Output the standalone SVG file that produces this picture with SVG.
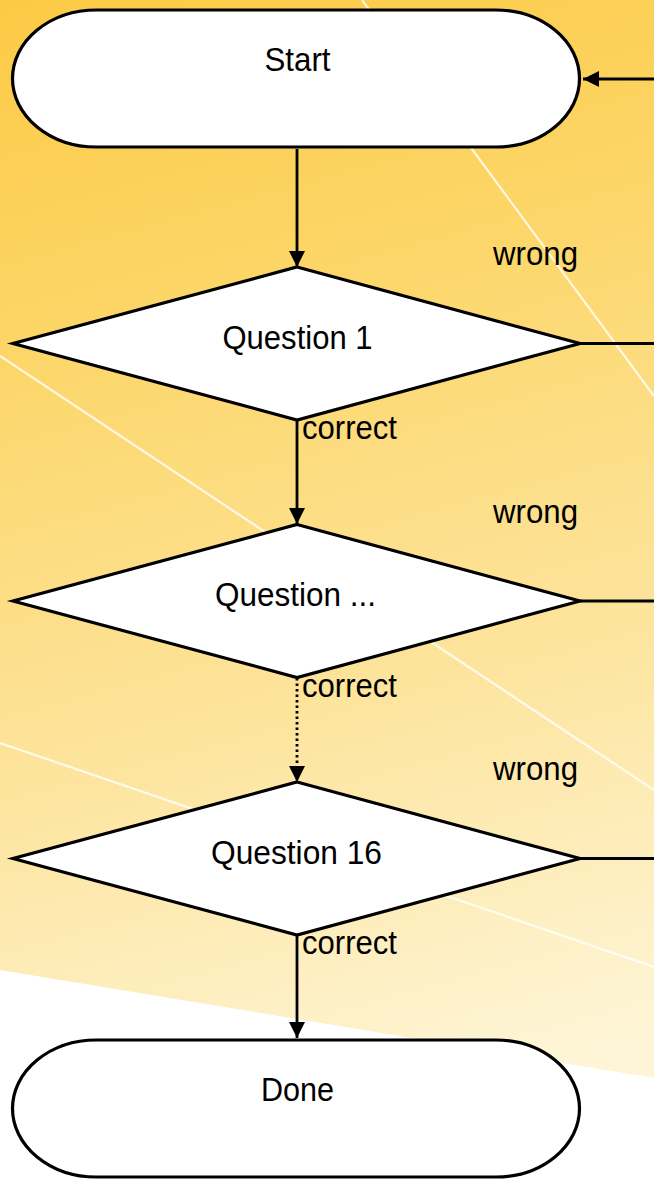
<svg xmlns="http://www.w3.org/2000/svg" width="654" height="1179" viewBox="0 0 654 1179">
<defs>
<linearGradient id="bg" x1="0" y1="0" x2="0.15" y2="1">
<stop offset="0" stop-color="#FCCA45"/>
<stop offset="0.3" stop-color="#FCD669"/>
<stop offset="0.65" stop-color="#FDE49C"/>
<stop offset="1" stop-color="#FEF5D6"/>
</linearGradient>
<marker id="arr" viewBox="0 0 16 16" refX="16" refY="8" markerWidth="16" markerHeight="16" markerUnits="userSpaceOnUse" orient="auto">
<path d="M0,0 L16,8 L0,16 Z" fill="#000"/>
</marker>
<style>
.node{fill:#fff;stroke:#000;stroke-width:3.2;}
.t{font-family:"Liberation Sans",Arial,sans-serif;font-size:33px;fill:#000;}
.c{stroke:#000;stroke-width:2.8;fill:none;}
.ray{stroke:#fff;stroke-width:2.2;stroke-opacity:0.8;}
</style>
</defs>
<g id="background">
<rect x="0" y="0" width="654" height="1179" fill="url(#bg)"/>
<polygon points="0,970 654,1078 654,1179 0,1179" fill="#fff"/>
<line class="ray" x1="362" y1="0" x2="654" y2="396"/>
<line class="ray" x1="0" y1="356" x2="654" y2="790"/>
<line class="ray" x1="0" y1="743" x2="654" y2="967"/>
</g>
<g id="connectors">
<line class="c" x1="297" y1="149" x2="297" y2="267" marker-end="url(#arr)"/>
<line class="c" x1="297" y1="420" x2="297" y2="524" marker-end="url(#arr)"/>
<line class="c" x1="297" y1="678" x2="297" y2="782" stroke-dasharray="2.5 3" marker-end="url(#arr)"/>
<line class="c" x1="297" y1="935" x2="297" y2="1038" marker-end="url(#arr)"/>
<line class="c" x1="580" y1="343.5" x2="660" y2="343.5"/>
<line class="c" x1="580" y1="601" x2="660" y2="601"/>
<line class="c" x1="580" y1="858.5" x2="660" y2="858.5"/>
<line class="c" x1="660" y1="79" x2="583" y2="79" marker-end="url(#arr)"/>
<text class="t" x="302" y="439" textLength="95" lengthAdjust="spacingAndGlyphs">correct</text>
<text class="t" x="302" y="696.5" textLength="95" lengthAdjust="spacingAndGlyphs">correct</text>
<text class="t" x="302" y="954" textLength="95" lengthAdjust="spacingAndGlyphs">correct</text>
<text class="t" x="493" y="265" textLength="85" lengthAdjust="spacingAndGlyphs">wrong</text>
<text class="t" x="493" y="522.5" textLength="85" lengthAdjust="spacingAndGlyphs">wrong</text>
<text class="t" x="493" y="780" textLength="85" lengthAdjust="spacingAndGlyphs">wrong</text>
</g>
<g id="start">
<rect class="node" x="12.5" y="10" width="567" height="137" rx="84" ry="68.5"/>
<text class="t" x="297.5" y="71" text-anchor="middle" textLength="66" lengthAdjust="spacingAndGlyphs">Start</text>
</g>
<g id="q1">
<polygon class="node" points="297,267 580,343.5 297,420 13,343.5"/>
<text class="t" x="297.5" y="348.5" text-anchor="middle" textLength="150" lengthAdjust="spacingAndGlyphs">Question 1</text>
</g>
<g id="qmid">
<polygon class="node" points="297,524.5 580,601 297,677.5 13,601"/>
<text class="t" x="295.5" y="606" text-anchor="middle" textLength="161" lengthAdjust="spacingAndGlyphs">Question ...</text>
</g>
<g id="q16">
<polygon class="node" points="297,782 580,858.5 297,935 13,858.5"/>
<text class="t" x="296.5" y="864" text-anchor="middle" textLength="171" lengthAdjust="spacingAndGlyphs">Question 16</text>
</g>
<g id="done">
<rect class="node" x="12.5" y="1040" width="567" height="137" rx="84" ry="68.5"/>
<text class="t" x="297.5" y="1101" text-anchor="middle" textLength="73" lengthAdjust="spacingAndGlyphs">Done</text>
</g>
</svg>
